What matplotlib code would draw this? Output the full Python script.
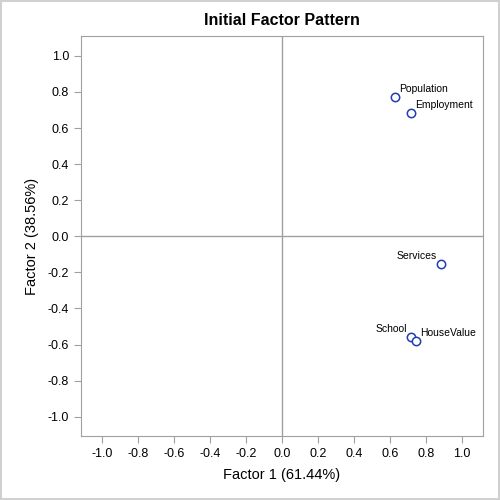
import matplotlib
matplotlib.use("Agg")
import matplotlib.pyplot as plt

names = ["Population", "Employment", "Services", "School", "HouseValue"]
factor1 = [0.628, 0.717, 0.883, 0.717, 0.744]
factor2 = [0.770, 0.681, -0.155, -0.560, -0.582]
ticks = [-1.0, -0.8, -0.6, -0.4, -0.2, 0.0, 0.2, 0.4, 0.6, 0.8, 1.0]

plt.rcParams['font.family'] = ['Liberation Sans', 'DejaVu Sans']
fig = plt.figure(figsize=(5, 5), dpi=100)
fig.patch.set_edgecolor('#d0d0d0')
fig.patch.set_linewidth(1.5)
ax = fig.add_axes([0.162, 0.128, 0.804, 0.8])

gray = '#a0a0a0'
ax.axhline(0, color=gray, lw=1, zorder=1)
ax.axvline(0, color=gray, lw=1, zorder=1)
ax.scatter(factor1, factor2, s=36, facecolors='white', edgecolors='#1f3fb0', linewidths=1.1, zorder=3)

offsets = {
    "Population": (3, 2.5, 'left', 'bottom'),
    "Employment": (3, 2.5, 'left', 'bottom'),
    "Services": (-3, 2.5, 'right', 'bottom'),
    "School": (-3, 2.5, 'right', 'bottom'),
    "HouseValue": (3, 2.5, 'left', 'bottom'),
}
for n, x, y in zip(names, factor1, factor2):
    dx, dy, ha, va = offsets[n]
    ax.annotate(n, (x, y), xytext=(dx, dy), textcoords='offset points',
                ha=ha, va=va, fontsize=7.5, color='black')

ax.set_xlim(-1.117, 1.117)
ax.set_ylim(-1.107, 1.11)
ax.set_xticks(ticks)
ax.set_yticks(ticks)
ax.set_xticklabels([f"{t:.1f}" for t in ticks])
ax.set_yticklabels([f"{t:.1f}" for t in ticks])
for s in ax.spines.values():
    s.set_color(gray)
ax.tick_params(colors=gray, labelcolor='black', labelsize=9, length=5)
ax.set_xlabel("Factor 1 (61.44%)", fontsize=10.5, labelpad=6)
ax.set_ylabel("Factor 2 (38.56%)", fontsize=10.5, labelpad=6)
ax.set_title("Initial Factor Pattern", fontsize=11.5, fontweight='bold', pad=8)

fig.savefig("out.png", dpi=100, edgecolor=fig.get_edgecolor())
